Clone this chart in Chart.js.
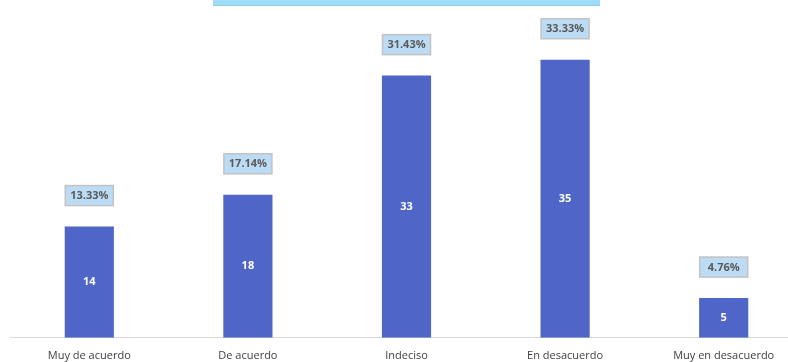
<!DOCTYPE html>
<html>
<head>
<meta charset="utf-8">
<script src="https://cdn.jsdelivr.net/npm/chart.js@4.4.1/dist/chart.umd.min.js"></script>
<style>
  html, body { margin: 0; padding: 0; background: #fff; }
  #wrap { width: 788px; height: 362px; overflow: hidden; }
</style>
</head>
<body>
<div id="wrap"><canvas id="chart" width="810" height="362"></canvas></div>
<script>
const categories = ["Muy de acuerdo", "De acuerdo", "Indeciso", "En desacuerdo", "Muy en desacuerdo"];
const counts = [14, 18, 33, 35, 5];
const percents = ["13.33%", "17.14%", "31.43%", "33.33%", "4.76%"];

// title strip cut off at the top + labels on the bars
const decorations = {
    id: "decorations",
    beforeDraw(chart) {
        const c = chart.ctx;
        c.save();
        c.fillStyle = "#9edcf8";
        c.fillRect(213, 0, 387, 5);
        c.fillStyle = "#8fcbea";
        c.fillRect(213, 5, 387, 1);
        c.restore();
    },
    afterDatasetsDraw(chart) {
        const c = chart.ctx;
        const meta = chart.getDatasetMeta(0);
        c.save();
        c.textAlign = "center";
        c.textBaseline = "middle";
        meta.data.forEach((bar, i) => {
            // value inside bar
            c.font = "bold 11px 'Open Sans', sans-serif";
            c.fillStyle = "#ffffff";
            c.fillText(String(counts[i]), bar.x, (bar.y + bar.base) / 2);

            // percentage box above bar
            const cy = bar.y - 31;
            const w = 48, h = 20;
            c.fillStyle = "#bcdcf5";
            c.fillRect(bar.x - w / 2, cy - h / 2, w, h);
            c.strokeStyle = "#c2c2c2";
            c.lineWidth = 1.5;
            c.strokeRect(bar.x - w / 2, cy - h / 2, w, h);
            c.fillStyle = "#5a5a5a";
            c.font = "bold 11px 'Open Sans', sans-serif";
            c.fillText(percents[i], bar.x, cy + 0.5);
        });
        c.restore();
    }
};

new Chart(document.getElementById("chart"), {
    type: "bar",
    data: {
        labels: categories,
        datasets: [{
            data: counts,
            backgroundColor: "#4f66c8",
            barPercentage: 0.31,
            categoryPercentage: 1
        }]
    },
    options: {
        responsive: false,
        animation: false,
        layout: { padding: { top: 20, left: 10, right: 7, bottom: -11 } },
        plugins: {
            legend: { display: false },
            tooltip: { enabled: false }
        },
        scales: {
            x: {
                grid: { display: false, drawTicks: false },
                border: { display: true, color: "#d9d9d9", width: 1 },
                ticks: {
                    padding: 11,
                    color: "#404040",
                    font: { family: "'Open Sans', sans-serif", size: 11 }
                }
            },
            y: {
                display: false,
                min: 0,
                max: 40
            }
        }
    },
    plugins: [decorations]
});
</script>
</body>
</html>
